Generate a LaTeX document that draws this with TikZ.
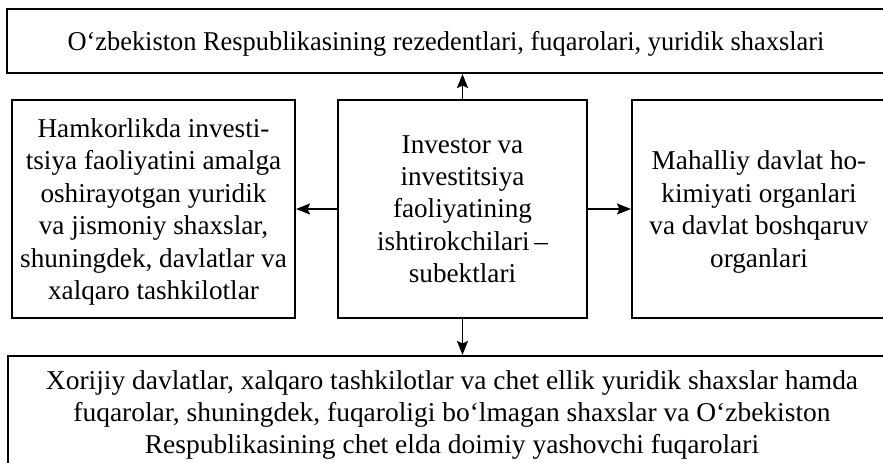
\documentclass[tikz,border=0pt]{standalone}
\usepackage{fontspec}
\setmainfont{Liberation Serif}
\usetikzlibrary{arrows.meta}
\begin{document}
\begin{tikzpicture}[x=0.5pt,y=0.5pt]
	\tikzset{box/.style = {draw, line width=1pt, align=center, inner sep=0pt, text depth=0pt, font=\fontsize{13.6}{16.2}\selectfont}}
	\tikzset{edge/.style = {->,> = {Stealth[length=7pt,width=5.5pt,inset=1.2pt]}, line width=0.9pt}}
	\useasboundingbox (0,0) rectangle (883,462);
	% Draw the boxes
	\node[box, minimum width=439pt, minimum height=32pt, font=\fontsize{13.6}{16.2}\selectfont\addfontfeatures{FakeStretch=0.97}] (T) at (446,421) {O‘zbekiston Respublikasining rezedentlari, fuqarolari, yuridik shaxslari};
	\node[box, minimum width=141.5pt, minimum height=109pt] (L) at (153.5,253) {Hamkorlikda investi-\\tsiya faoliyatini amalga\\oshirayotgan yuridik\\va jismoniy shaxslar,\\shuningdek, davlatlar va\\xalqaro tashkilotlar};
	\node[box, minimum width=124.5pt, minimum height=109pt] (C) at (462.5,253) {Investor va\\investitsiya\\faoliyatining\\ishtirokchilari\,–\\subektlari};
	\node[box, minimum width=127pt, minimum height=109pt] (R) at (759,253) {Mahalliy davlat ho-\\kimiyati organlari\\va davlat boshqaruv\\organlari};
	\node[box, minimum width=444pt, minimum height=56pt, font=\fontsize{13.6}{16.2}\selectfont\addfontfeatures{FakeStretch=1.01}] (B) at (452,50) {Xorijiy davlatlar, xalqaro tashkilotlar va chet ellik yuridik shaxslar hamda\\fuqarolar, shuningdek, fuqaroligi bo‘lmagan shaxslar va O‘zbekiston\\Respublikasining chet elda doimiy yashovchi fuqarolari};
	% Draw the arrows
	\draw[edge] (C.north) to (C.north |- T.south);
	\draw[edge] (C.west) to (L.east);
	\draw[edge] (C.east) to (R.west);
	\draw[edge] (C.south) to (C.south |- B.north);
\end{tikzpicture}
\end{document}
